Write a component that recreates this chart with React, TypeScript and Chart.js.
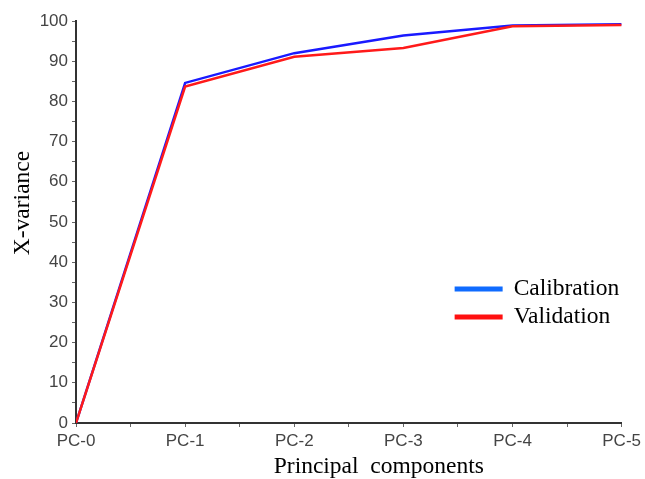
import { useEffect, useRef } from 'react';
import { Chart, registerables } from 'chart.js';

Chart.register(...registerables);

const categories = ['PC-0', 'PC-1', 'PC-2', 'PC-3', 'PC-4', 'PC-5'];
const calibration = [0, 84.6, 92.0, 96.4, 98.9, 99.2];
const validation = [0, 83.7, 91.1, 93.3, 98.7, 99.0];
const seriesNames = ['Calibration', 'Validation'];
const lineColors = ['#1a1aff', '#ff1a1a'];
const legendColors = ['#0f6bff', '#ff1010'];
const xTitle = 'Principal  components';
const yTitle = 'X-variance';

const overlayPlugin = {
  id: 'overlay',
  afterDraw(chart: any) {
    const { ctx, chartArea } = chart;
    const { left, right, top, bottom } = chartArea;
    ctx.save();
    ctx.fillStyle = '#000';
    ctx.font = '23.5px "Liberation Serif", "Times New Roman", serif';
    // x title
    ctx.textAlign = 'center';
    ctx.textBaseline = 'middle';
    ctx.fillText(xTitle, (left + right) / 2 + 30, bottom + 44);
    // y title
    ctx.save();
    ctx.translate(23, (top + bottom) / 2 - 19);
    ctx.rotate(-Math.PI / 2);
    ctx.fillText(yTitle, 0, 0);
    ctx.restore();
    // legend
    const lx = right - 167;
    const ly = top + 268;
    seriesNames.forEach((name, i) => {
      const y = ly + i * 28;
      ctx.strokeStyle = legendColors[i];
      ctx.lineWidth = 5;
      ctx.beginPath();
      ctx.moveTo(lx, y);
      ctx.lineTo(lx + 48, y);
      ctx.stroke();
      ctx.textAlign = 'left';
      ctx.textBaseline = 'middle';
      ctx.fillStyle = '#000';
      ctx.fillText(name, lx + 59, y);
    });
    ctx.restore();
  },
};

export default function App() {
  const ref = useRef<HTMLCanvasElement>(null);
  useEffect(() => {
    if (!ref.current) return;
    const chart = new Chart(ref.current, {
      type: 'line',
      data: {
        datasets: [
          {
            label: seriesNames[0],
            data: calibration.map((v, i) => ({ x: i, y: v })),
            borderColor: lineColors[0],
            borderWidth: 2.5,
            pointRadius: 0,
            tension: 0,
            order: 1,
          },
          {
            label: seriesNames[1],
            data: validation.map((v, i) => ({ x: i, y: v })),
            borderColor: lineColors[1],
            borderWidth: 2.5,
            pointRadius: 0,
            tension: 0,
            order: 0,
          },
        ],
      },
      options: {
        animation: false,
        responsive: false,
        maintainAspectRatio: false,
        layout: { padding: { top: 21, right: 23, left: 0, bottom: 0 } },
        plugins: {
          legend: { display: false },
          tooltip: { enabled: false },
        },
        scales: {
          x: {
            type: 'linear',
            min: 0,
            max: categories.length - 1,
            afterFit(scale: any) {
              scale.height = 56;
            },
            ticks: {
              stepSize: 0.5,
              autoSkip: false,
              maxRotation: 0,
              padding: 4,
              color: '#444',
              font: { family: '"Liberation Sans", Arial, sans-serif', size: 17 },
              callback: (v: any) => (Number.isInteger(v) ? categories[v] : ''),
            },
            grid: { drawOnChartArea: false, drawTicks: true, tickLength: 4, color: '#666' },
            border: { color: '#333', width: 2 },
          },
          y: {
            min: 0,
            max: 100,
            afterFit(scale: any) {
              scale.width = 76;
            },
            ticks: {
              stepSize: 5,
              autoSkip: false,
              padding: 4,
              color: '#444',
              font: { family: '"Liberation Sans", Arial, sans-serif', size: 17 },
              callback: (v: any) => (v % 10 === 0 ? String(v) : ''),
            },
            grid: { drawOnChartArea: false, drawTicks: true, tickLength: 4, color: '#666' },
            border: { color: '#333', width: 2 },
          },
        },
      },
      plugins: [overlayPlugin],
    });
    return () => chart.destroy();
  }, []);
  return (
    <div style={{ position: 'fixed', left: 0, top: 0, width: 645, height: 479, background: '#fff' }}>
      <canvas ref={ref} width={645} height={479} style={{ width: 645, height: 479 }} />
    </div>
  );
}
